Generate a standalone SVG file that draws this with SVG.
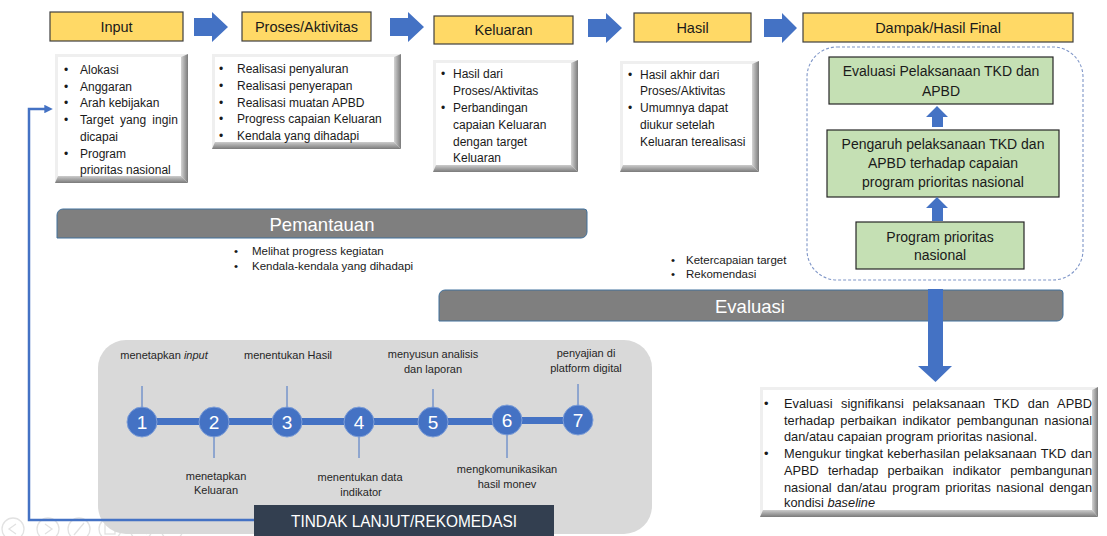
<svg xmlns="http://www.w3.org/2000/svg" width="1107" height="536" viewBox="0 0 1107 536">
<defs>
<style>
text{font-family:"Liberation Sans",Arial,sans-serif;fill:#1a1a1a}
.ybox{fill:#FFD966;stroke:#3f3f3f;stroke-width:1.2}
.yt{font-size:14.5px;text-anchor:middle}
.gbox{fill:#C5E0B4;stroke:#262626;stroke-width:1.2}
.gt{font-size:14px;text-anchor:middle}
.blk{fill:#4472C4}
.bevbase{fill:#efefef}
.bevr{fill:url(#gr)}
.bevb{fill:url(#gb)}
.bevin{fill:#ffffff}
.bt{font-size:12px}
.bt2{font-size:12.8px}
.st{font-size:11.5px}
.lbl{font-size:11px;text-anchor:middle;fill:#262626}
.bar{fill:#7F7F7F;stroke:#41719C;stroke-width:1}
.bart{font-size:18.5px;fill:#ffffff;text-anchor:middle}
.num{font-size:19px;fill:#ffffff;text-anchor:middle}
.circ{fill:#4472C4;stroke:#7f9fd8;stroke-width:1}
.tick{stroke:#4472C4;stroke-width:1;fill:none}
.tb{fill:none;stroke:#e2e2e2;stroke-width:1.3}
</style>
<linearGradient id="gr" x1="0" y1="0" x2="1" y2="0">
<stop offset="0" stop-color="#d4d4d4"/><stop offset="1" stop-color="#7a7a7a"/>
</linearGradient>
<linearGradient id="gb" x1="0" y1="0" x2="0" y2="1">
<stop offset="0" stop-color="#cccccc"/><stop offset="1" stop-color="#7a7a7a"/>
</linearGradient>
<marker id="ah" viewBox="0 0 10 10" refX="2" refY="5" markerWidth="3.4" markerHeight="3.4" orient="auto">
<path d="M0,0 L10,5 L0,10 z" fill="#4472C4"/>
</marker>
</defs>
<rect width="1107" height="536" fill="#ffffff"/>

<!-- toolbar (faint) -->
<g id="toolbar">
<circle class="tb" cx="13" cy="529" r="11"/><path class="tb" d="M16,524 L9,529 L16,534"/>
<circle class="tb" cx="48" cy="529" r="11"/><path class="tb" d="M45,524 L52,529 L45,534"/>
<circle class="tb" cx="79" cy="529" r="11"/><path class="tb" d="M74,535 L84,523"/>
<circle class="tb" cx="110" cy="529" r="11"/><rect class="tb" x="105" y="524" width="10" height="10"/>
<circle class="tb" cx="141" cy="529" r="11"/><circle class="tb" cx="140" cy="527" r="4"/><path class="tb" d="M143,530 L147,534"/>
<circle class="tb" cx="172" cy="529" r="11"/><path class="tb" d="M166,529 h1 M171.5,529 h1 M177,529 h1"/>
</g>

<!-- Top row -->
<g id="input">
<rect class="ybox" x="50" y="12" width="133" height="29"/>
<text class="yt" x="116.5" y="32">Input</text>
</g>
<g id="proses">
<rect class="ybox" x="242" y="12" width="129" height="29"/>
<text class="yt" x="306.5" y="32">Proses/Aktivitas</text>
</g>
<g id="keluaran">
<rect class="ybox" x="434" y="16" width="139" height="28"/>
<text class="yt" x="503.5" y="35">Keluaran</text>
</g>
<g id="hasil">
<rect class="ybox" x="634" y="13" width="117" height="29"/>
<text class="yt" x="692.5" y="33">Hasil</text>
</g>
<g id="dampak">
<rect class="ybox" x="803" y="13" width="270" height="29"/>
<text class="yt" x="938" y="33">Dampak/Hasil Final</text>
</g>

<!-- bullet boxes -->
<g id="input-detail">
<rect class="bevbase" x="55" y="54" width="133" height="129"/>
<polygon class="bevr" points="188,54 188,183 181,176 181,57"/>
<polygon class="bevb" points="55,183 188,183 181,176 58,176"/>
<rect class="bevin" x="58" y="57" width="123" height="119"/>
<g class="bt">
<text x="64" y="74">•</text><text x="80" y="74">Alokasi</text>
<text x="64" y="90.5">•</text><text x="80" y="90.5">Anggaran</text>
<text x="64" y="107">•</text><text x="80" y="107">Arah kebijakan</text>
<text x="64" y="124">•</text><text x="80" y="124" word-spacing="2.6" textLength="98" lengthAdjust="spacing">Target yang ingin</text>
<text x="80" y="140.5">dicapai</text>
<text x="64" y="157.5">•</text><text x="80" y="157.5">Program</text>
<text x="80" y="174">prioritas nasional</text>
</g>
</g>
<g id="proses-detail">
<rect class="bevbase" x="212" y="54" width="189" height="95"/>
<polygon class="bevr" points="401,54 401,149 394,142 394,57"/>
<polygon class="bevb" points="212,149 401,149 394,142 215,142"/>
<rect class="bevin" x="215" y="57" width="179" height="85"/>
<g class="bt">
<text x="219" y="73">•</text><text x="237" y="73">Realisasi penyaluran</text>
<text x="219" y="89.5">•</text><text x="237" y="89.5">Realisasi penyerapan</text>
<text x="219" y="106.5">•</text><text x="237" y="106.5">Realisasi muatan APBD</text>
<text x="219" y="123">•</text><text x="237" y="123">Progress capaian Keluaran</text>
<text x="219" y="139.5">•</text><text x="237" y="139.5">Kendala yang dihadapi</text>
</g>
</g>
<g id="keluaran-detail">
<rect class="bevbase" x="433" y="60" width="145" height="112"/>
<polygon class="bevr" points="578,60 578,172 571,165 571,63"/>
<polygon class="bevb" points="433,172 578,172 571,165 436,165"/>
<rect class="bevin" x="436" y="63" width="135" height="102"/>
<g class="bt">
<text x="441" y="77.5">•</text><text x="453" y="77.5">Hasil dari</text>
<text x="453" y="94.5">Proses/Aktivitas</text>
<text x="441" y="111.5">•</text><text x="453" y="111.5">Perbandingan</text>
<text x="453" y="128.5">capaian Keluaran</text>
<text x="453" y="145.5">dengan target</text>
<text x="453" y="161.5">Keluaran</text>
</g>
</g>
<g id="hasil-detail">
<rect class="bevbase" x="620" y="61" width="139" height="111"/>
<polygon class="bevr" points="759,61 759,172 752,165 752,64"/>
<polygon class="bevb" points="620,172 759,172 752,165 623,165"/>
<rect class="bevin" x="623" y="64" width="129" height="101"/>
<g class="bt">
<text x="628" y="78.5">•</text><text x="640" y="78.5">Hasil akhir dari</text>
<text x="640" y="94.5">Proses/Aktivitas</text>
<text x="628" y="111.5">•</text><text x="640" y="111.5">Umumnya dapat</text>
<text x="640" y="128.5">diukur setelah</text>
<text x="640" y="145.5">Keluaran terealisasi</text>
</g>
</g>

<!-- Dampak container -->
<g id="dampak-detail">
<rect x="807" y="47" width="276" height="233" rx="30" ry="30" fill="none" stroke="#7F96C8" stroke-width="1.1" stroke-dasharray="3 2"/>
</g>
<g id="evaluasi-pelaksanaan">
<rect class="gbox" x="829" y="57" width="224" height="47"/>
<text class="gt" x="941" y="76">Evaluasi Pelaksanaan TKD dan</text>
<text class="gt" x="941" y="96">APBD</text>
</g>
<g id="pengaruh">
<rect class="gbox" x="827" y="130" width="232" height="67"/>
<text class="gt" x="943" y="149">Pengaruh pelaksanaan TKD dan</text>
<text class="gt" x="943" y="168">APBD terhadap capaian</text>
<text class="gt" x="943" y="187">program prioritas nasional</text>
</g>
<g id="program-prioritas">
<rect class="gbox" x="856" y="222" width="168" height="47"/>
<text class="gt" x="940" y="242">Program prioritas</text>
<text class="gt" x="940" y="260">nasional</text>
</g>

<!-- Pemantauan -->
<g id="pemantauan">
<path class="bar" d="M63,209 H584 A3,3 0 0 1 587,212 V232 A6,6 0 0 1 581,238 H57 V215 A6,6 0 0 1 63,209 Z"/>
<text class="bart" x="322" y="230.5">Pemantauan</text>
<g class="st">
<text x="234" y="255">•</text><text x="252" y="255">Melihat progress kegiatan</text>
<text x="234" y="270">•</text><text x="252" y="270">Kendala-kendala yang dihadapi</text>
</g>
</g>

<!-- Evaluasi -->
<g id="evaluasi">
<g class="st">
<text x="671" y="264">•</text><text x="686" y="264">Ketercapaian target</text>
<text x="671" y="278">•</text><text x="686" y="278">Rekomendasi</text>
</g>
<path class="bar" d="M445,290 H1060 A3,3 0 0 1 1063,293 V315 A6,6 0 0 1 1057,321 H439 V296 A6,6 0 0 1 445,290 Z"/>
<text class="bart" x="750" y="313">Evaluasi</text>
</g>

<!-- Evaluasi detail -->
<g id="evaluasi-detail">
<rect class="bevbase" x="760" y="387" width="338" height="130"/>
<polygon class="bevr" points="1098,387 1098,517 1092,510 1092,390"/>
<polygon class="bevb" points="760,517 1098,517 1092,510 763,510"/>
<rect class="bevin" x="763" y="390" width="329" height="120"/>
<g class="bt2">
<text x="764" y="407.5">•</text>
<text x="784" y="407.5" word-spacing="5" textLength="308" lengthAdjust="spacing">Evaluasi signifikansi pelaksanaan TKD dan APBD</text>
<text x="784" y="424.5" word-spacing="2.3" textLength="308" lengthAdjust="spacing">terhadap perbaikan indikator pembangunan nasional</text>
<text x="784" y="440.5">dan/atau capaian program prioritas nasional.</text>
<text x="764" y="457.5">•</text>
<text x="784" y="457.5" word-spacing="0.7" textLength="308" lengthAdjust="spacing">Mengukur tingkat keberhasilan pelaksanaan TKD dan</text>
<text x="784" y="474.5" word-spacing="5.5" textLength="308" lengthAdjust="spacing">APBD terhadap perbaikan indikator pembangunan</text>
<text x="784" y="491.5" word-spacing="1.8" textLength="308" lengthAdjust="spacing">nasional dan/atau program prioritas nasional dengan</text>
<text x="784" y="506.5">kondisi <tspan font-style="italic">baseline</tspan></text>
</g>
</g>

<!-- Tindak lanjut panel -->
<g id="tindak-lanjut-panel">
<rect x="98" y="340" width="554" height="194" rx="28" ry="28" fill="#D9D9D9"/>
</g>

<g id="connectors">
<path class="blk" d="M194,18 H212 V12 L228,27 L212,42 V36 H194 Z"/>
<path class="blk" d="M390,18 H408 V12 L424,27 L408,42 V36 H390 Z"/>
<path class="blk" d="M588,19 H606 V13 L622,28 L606,43 V37 H588 Z"/>
<path class="blk" d="M764,19 H782 V13 L797,28 L782,43 V37 H764 Z"/>
<path class="blk" d="M937,106 L948,117 H943 V127 H932 V117 H926 Z"/>
<path class="blk" d="M937,197 L948,208 H943 V221 H932 V208 H926 Z"/>
<path class="blk" d="M928,289 H943 V366 H952 L935.5,382 L918,366 H928 Z"/>
<path d="M256,520 H29 V109 H46" fill="none" stroke="#4472C4" stroke-width="2.5" marker-end="url(#ah)"/>
<line x1="142" y1="421.5" x2="507" y2="421.5" stroke="#4472C4" stroke-width="7"/>
<line x1="507" y1="420.5" x2="578" y2="420.5" stroke="#4472C4" stroke-width="7"/>
<line class="tick" x1="142" y1="386" x2="142" y2="407"/>
<line class="tick" x1="214" y1="437" x2="214" y2="458"/>
<line class="tick" x1="287" y1="386" x2="287" y2="407"/>
<line class="tick" x1="359" y1="437" x2="359" y2="458"/>
<line class="tick" x1="433" y1="389" x2="433" y2="407"/>
<line class="tick" x1="507" y1="435" x2="507" y2="458"/>
<line class="tick" x1="578" y1="384" x2="578" y2="405"/>
</g>

<g id="step1"><circle class="circ" cx="142" cy="422" r="15"/><text class="num" x="142" y="428.5">1</text>
<text class="lbl" x="164" y="359">menetapkan <tspan font-style="italic">input</tspan></text></g>
<g id="step2"><circle class="circ" cx="214" cy="422" r="15"/><text class="num" x="214" y="428.5">2</text>
<text class="lbl" x="216" y="480">menetapkan</text><text class="lbl" x="216" y="494">Keluaran</text></g>
<g id="step3"><circle class="circ" cx="287" cy="422" r="15"/><text class="num" x="287" y="428.5">3</text>
<text class="lbl" x="288" y="359">menentukan Hasil</text></g>
<g id="step4"><circle class="circ" cx="359" cy="422" r="15"/><text class="num" x="359" y="428.5">4</text>
<text class="lbl" x="360" y="481">menentukan data</text><text class="lbl" x="361" y="496">indikator</text></g>
<g id="step5"><circle class="circ" cx="433" cy="422" r="15"/><text class="num" x="433" y="428.5">5</text>
<text class="lbl" x="433" y="358">menyusun analisis</text><text class="lbl" x="433" y="373">dan laporan</text></g>
<g id="step6"><circle class="circ" cx="507" cy="420" r="15"/><text class="num" x="507" y="426.5">6</text>
<text class="lbl" x="507" y="473">mengkomunikasikan</text><text class="lbl" x="507" y="488">hasil monev</text></g>
<g id="step7"><circle class="circ" cx="578" cy="420" r="15"/><text class="num" x="578" y="426.5">7</text>
<text class="lbl" x="586" y="357">penyajian di</text><text class="lbl" x="586" y="372">platform digital</text></g>

<g id="tindak-lanjut">
<rect x="254" y="505" width="300" height="31" fill="#333F50"/>
<text x="404" y="527" font-size="16" text-anchor="middle" textLength="226" lengthAdjust="spacingAndGlyphs" style="fill:#ffffff">TINDAK LANJUT/REKOMEDASI</text>
</g>
</svg>
